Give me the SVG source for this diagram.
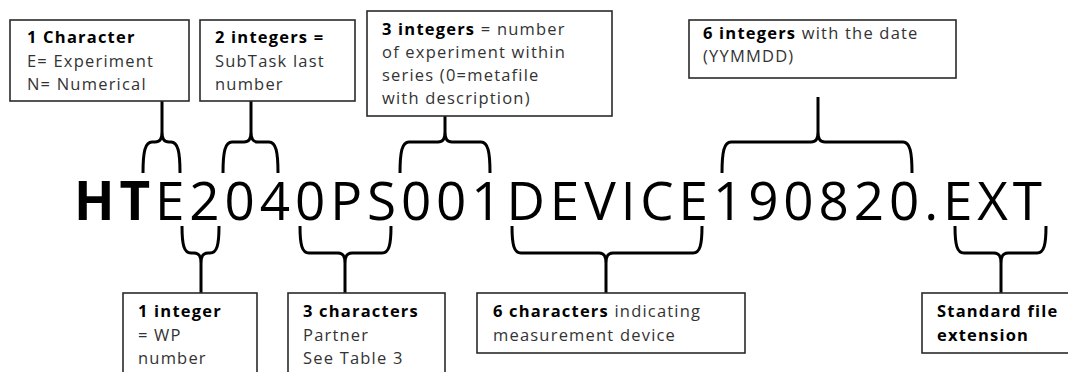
<svg xmlns="http://www.w3.org/2000/svg" width="1068" height="372" viewBox="0 0 1068 372">
<style>
.box{fill:#fff;stroke:#2a2a2a;stroke-width:1.6}
.t{font-family:"Open Sans","Noto Sans",sans-serif;font-size:16.5px;fill:#333;letter-spacing:1.2px}
.b{font-weight:bold;fill:#000}
.br{fill:none;stroke:#000;stroke-width:3;stroke-linejoin:round;stroke-linecap:butt}
.main{font-family:"Open Sans","Noto Sans",sans-serif;font-size:53px;fill:#000}
</style>
<rect width="1068" height="372" fill="#fff"/>
<g id="filename">
<text class="main" x="74" y="220" textLength="968" lengthAdjust="spacing"><tspan font-weight="bold">HT</tspan>E2040PS001DEVICE190820.EXT</text>
</g>
<g id="connectors">
<path class="br" d="M143 173 C143 152 145 142 152 142 L155 142 C160 142 162 139 162 132 C162 139 164 142 169 142 L171 142 C178 142 180 152 180 173 M162 132 L162 101"/>
<path class="br" d="M223 173 C223 152 225 142 232 142 L244 142 C249 142 251 139 251 132 C251 139 253 142 258 142 L269 142 C276 142 278 152 278 173 M251 132 L251 101"/>
<path class="br" d="M400 173 C400 152 402 142 409 142 L438 142 C443 142 445 139 445 132 C445 139 447 142 452 142 L481 142 C488 142 490 152 490 173 M445 132 L445 116"/>
<path class="br" d="M722 173 C722 152 724 142 731 142 L811 142 C816 142 818 139 818 132 C818 139 820 142 825 142 L903 142 C910 142 912 152 912 173 M818 132 L818 97"/>
<path class="br" d="M182 226 C182 245 184 253 191 253 L194 253 C199 253 201 256 201 263 C201 256 203 253 208 253 L210 253 C217 253 219 245 219 226 M201 263 L201 293"/>
<path class="br" d="M300 226 C300 245 302 253 309 253 L338 253 C343 253 345 256 345 263 C345 256 347 253 352 253 L382 253 C389 253 391 245 391 226 M345 263 L345 293"/>
<path class="br" d="M512 226 C512 245 514 253 521 253 L599 253 C604 253 606 256 606 263 C606 256 608 253 613 253 L693 253 C700 253 702 245 702 226 M606 263 L606 293"/>
<path class="br" d="M955 226 C955 245 957 253 964 253 L994 253 C999 253 1001 256 1001 263 C1001 256 1003 253 1008 253 L1037 253 C1044 253 1046 245 1046 226 M1001 263 L1001 293"/>
</g>
<g id="box-character">
<rect class="box" x="10" y="20" width="179" height="81"/>
<text class="t" x="27" y="43"><tspan class="b">1 Character</tspan></text>
<text class="t" x="27" y="67">E= Experiment</text>
<text class="t" x="27" y="90">N= Numerical</text>
</g>
<g id="box-subtask">
<rect class="box" x="200" y="20" width="155" height="81"/>
<text class="t" x="215" y="43"><tspan class="b">2 integers =</tspan></text>
<text class="t" x="215" y="67">SubTask last</text>
<text class="t" x="215" y="90">number</text>
</g>
<g id="box-experiment">
<rect class="box" x="367" y="11" width="245" height="105"/>
<text class="t" x="382" y="35"><tspan class="b">3 integers</tspan> = number</text>
<text class="t" x="382" y="58">of experiment within</text>
<text class="t" x="382" y="81">series (0=metafile</text>
<text class="t" x="382" y="104">with description)</text>
</g>
<g id="box-date">
<rect class="box" x="689" y="20" width="267" height="58"/>
<text class="t" x="703" y="39"><tspan class="b">6 integers</tspan> with the date</text>
<text class="t" x="703" y="62">(YYMMDD)</text>
</g>
<g id="box-wp">
<rect class="box" x="123" y="293" width="134" height="90"/>
<text class="t" x="138" y="317"><tspan class="b">1 integer</tspan></text>
<text class="t" x="138" y="341">= WP</text>
<text class="t" x="138" y="364">number</text>
</g>
<g id="box-partner">
<rect class="box" x="288" y="293" width="157" height="90"/>
<text class="t" x="303" y="317"><tspan class="b">3 characters</tspan></text>
<text class="t" x="303" y="341">Partner</text>
<text class="t" x="303" y="364">See Table 3</text>
</g>
<g id="box-device">
<rect class="box" x="477" y="293" width="268" height="60"/>
<text class="t" x="493" y="317"><tspan class="b">6 characters</tspan> indicating</text>
<text class="t" x="493" y="341">measurement device</text>
</g>
<g id="box-extension">
<rect class="box" x="922" y="293" width="160" height="60"/>
<text class="t" x="937" y="317"><tspan class="b">Standard file</tspan></text>
<text class="t" x="937" y="341"><tspan class="b">extension</tspan></text>
</g>
</svg>
